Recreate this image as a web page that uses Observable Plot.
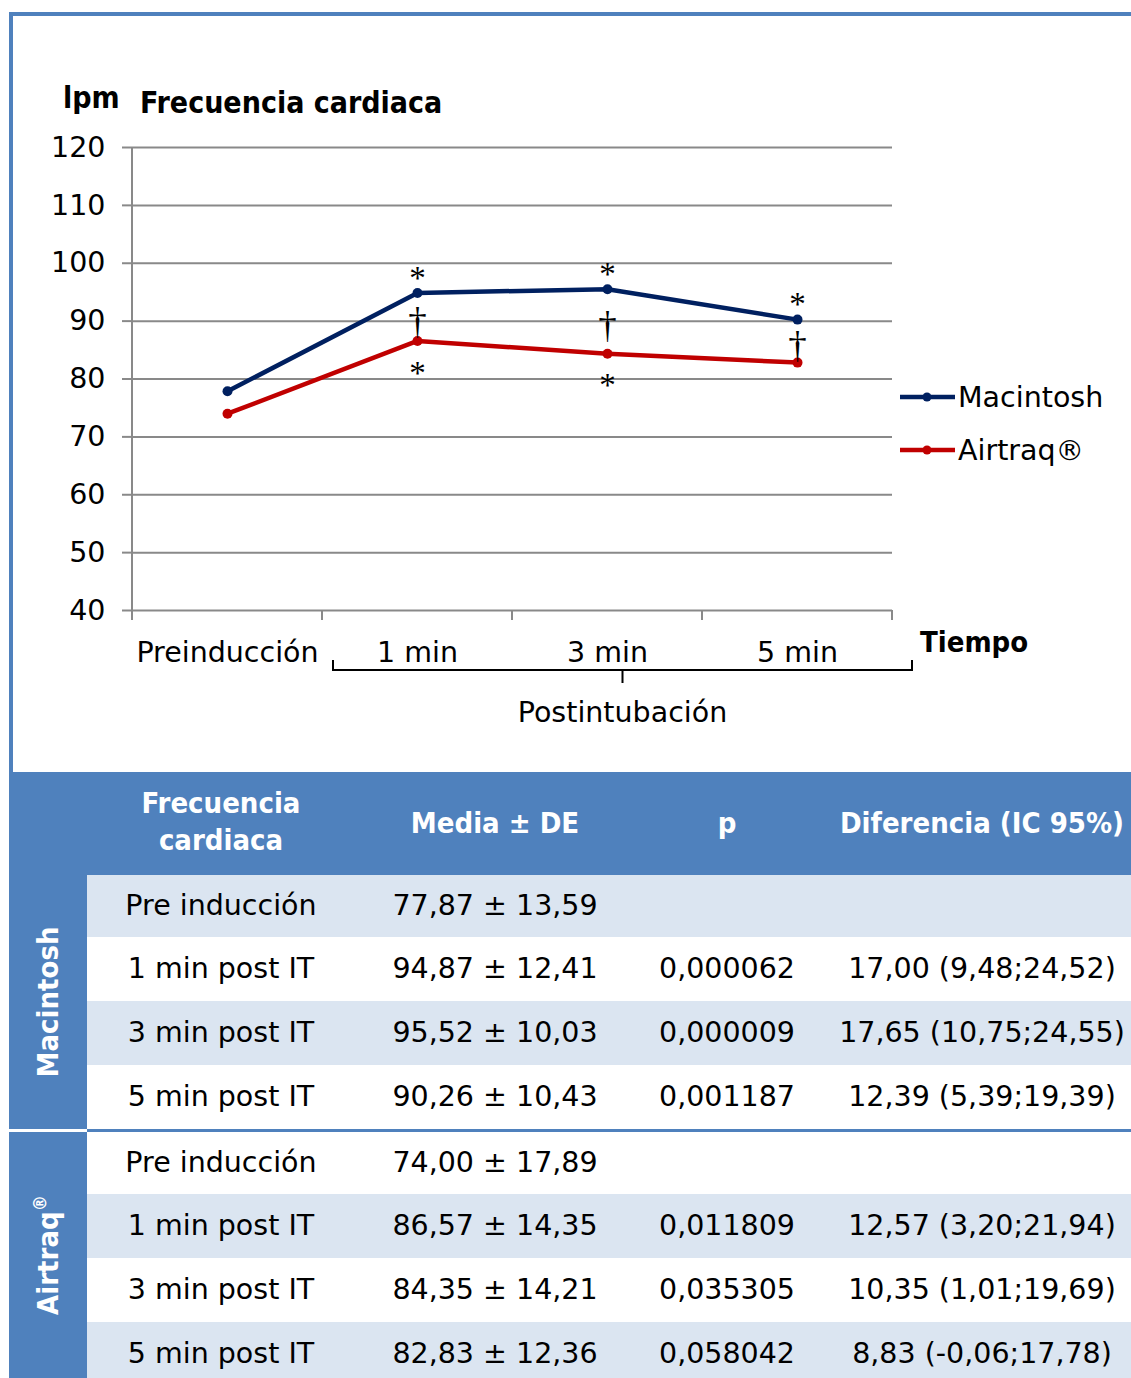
<!DOCTYPE html>
<html>
<head>
<meta charset="utf-8">
<script src="https://cdn.jsdelivr.net/npm/d3@7"></script>
<script src="https://cdn.jsdelivr.net/npm/@observablehq/plot@0.6"></script>
<style>
html, body { margin: 0; padding: 0; overflow: hidden; background: #fff; }
#page { position: relative; width: 1131px; height: 1378px; overflow: hidden; background: #fff;
  font-family: "DejaVu Sans", sans-serif; }
.frame { position: absolute; left: 9px; top: 12px; width: 1122px; height: 760px;
  border-top: 4px solid #4F81BD; border-left: 4px solid #4F81BD; box-sizing: border-box; z-index: 1; }
#chart { position: absolute; left: 0; top: 0; z-index: 2; }
.blk { position: absolute; }
.cell { position: absolute; text-align: center; white-space: nowrap; font-size: 28.5px; color: #000;
  font-family: "DejaVu Sans", sans-serif; }
.hcell, .grp { font-family: "DejaVu Sans Condensed", "DejaVu Sans", sans-serif; font-stretch: condensed; }
.hcell { position: absolute; text-align: center; white-space: nowrap; font-size: 29px; color: #fff; font-weight: bold; }
.grp { position: absolute; white-space: nowrap; color: #fff; font-weight: bold; font-size: 29px;
  transform: translate(-50%, -50%) rotate(-90deg); transform-origin: center center; }
.grp sup { font-size: 18px; vertical-align: 12px; line-height: 0; }
</style>
</head>
<body>
<div id="page">
  <div class="frame"></div>
  <div id="chart"></div>
  <div id="table"></div>
</div>
<script>
// ---------------- Chart data ----------------
const categories = ["Preinducción", "1 min", "3 min", "5 min"];
const seriesNames = ["Macintosh", "Airtraq®"];
const seriesColors = ["#002060", "#C00000"];
const macintosh = [77.87, 94.87, 95.52, 90.26];
const airtraq = [74.00, 86.57, 84.35, 82.83];
const yTicks = [40, 50, 60, 70, 80, 90, 100, 110, 120];
const starAboveMac = ["1 min", "3 min", "5 min"];
const daggerBetween = ["1 min", "3 min", "5 min"];
const starBelowAir = ["1 min", "3 min"];

// ---------------- Table data ----------------
const tableHeaders = ["Frecuencia cardiaca", "Media ± DE", "p", "Diferencia (IC 95%)"];
const rowLabels = ["Pre inducción", "1 min post IT", "3 min post IT", "5 min post IT"];
const macSD = [13.59, 12.41, 10.03, 10.43];
const macP = ["", "0,000062", "0,000009", "0,001187"];
const macDiff = ["", "17,00 (9,48;24,52)", "17,65 (10,75;24,55)", "12,39 (5,39;19,39)"];
const airSD = [17.89, 14.35, 14.21, 12.36];
const airP = ["", "0,011809", "0,035305", "0,058042"];
const airDiff = ["", "12,57 (3,20;21,94)", "10,35 (1,01;19,69)", "8,83 (-0,06;17,78)"];

const FONT = '"DejaVu Sans", sans-serif';
const BOLD = '"DejaVu Sans Condensed", "DejaVu Sans", sans-serif';
const SERIF = '"Liberation Serif", "DejaVu Serif", serif';

const series = [macintosh, airtraq];
const long = [];
series.forEach((vals, s) => vals.forEach((v, i) => long.push({cat: categories[i], value: v, series: seriesNames[s]})));
const valOf = (arr, c) => arr[categories.indexOf(c)];

function decor(index, scales, values, dims) {
  const x = scales.x, y = scales.y;
  const bw = typeof x.bandwidth === "function" ? x.bandwidth() : x.bandwidth;
  const g = d3.create("svg:g").attr("text-anchor", "start");
  const x0 = x(categories[0]);
  const xEnd = x(categories[categories.length - 1]) + bw;
  const yTop = y(d3.max(yTicks));
  const yBot = y(d3.min(yTicks));
  const axisColor = "#898989";
  // y axis line
  g.append("line").attr("x1", x0).attr("x2", x0).attr("y1", yTop).attr("y2", yBot + 10)
    .attr("stroke", axisColor).attr("stroke-width", 2);
  // boundary ticks
  categories.forEach(c => {
    const xb = x(c) + bw;
    g.append("line").attr("x1", xb).attr("x2", xb).attr("y1", yBot).attr("y2", yBot + 10)
      .attr("stroke", axisColor).attr("stroke-width", 2);
  });
  // bracket under post-intubation categories
  const bl = x(categories[1]) + 11, br = xEnd + 20, bm = (bl + br) / 2;
  g.append("path")
    .attr("d", `M${bl},${yBot + 50}V${yBot + 60}H${br}V${yBot + 50}M${bm},${yBot + 60}V${yBot + 73}`)
    .attr("fill", "none").attr("stroke", "#000").attr("stroke-width", 2);
  g.append("text").attr("x", bm).attr("y", yBot + 112).attr("text-anchor", "middle")
    .attr("font-size", 28.5).text("Postintubación");
  g.append("text").attr("x", xEnd + 28).attr("y", yBot + 42).attr("font-size", 29)
    .attr("font-family", BOLD).attr("font-stretch", "condensed")
    .attr("font-weight", "bold").text("Tiempo");
  // titles
  g.append("text").attr("x", x0 - 69).attr("y", yTop - 39).attr("font-size", 30)
    .attr("font-family", BOLD).attr("font-stretch", "condensed")
    .attr("font-weight", "bold").text("lpm");
  g.append("text").attr("x", x0 + 8).attr("y", yTop - 34).attr("font-size", 30)
    .attr("font-family", BOLD).attr("font-stretch", "condensed")
    .attr("font-weight", "bold").text("Frecuencia cardiaca");
  // legend
  seriesNames.forEach((name, i) => {
    const ly = yTop + 250 + i * 53;
    const lx = xEnd + 8;
    g.append("line").attr("x1", lx).attr("x2", lx + 55).attr("y1", ly).attr("y2", ly)
      .attr("stroke", seriesColors[i]).attr("stroke-width", 4.5);
    g.append("circle").attr("cx", lx + 27).attr("cy", ly).attr("r", 4.5).attr("fill", seriesColors[i]);
    g.append("text").attr("x", lx + 58).attr("y", ly + 10).attr("font-size", 28.5).text(name);
  });
  return g.node();
}

const plot = Plot.plot({
  width: 1131,
  height: 772,
  marginLeft: 132,
  marginRight: 239,
  marginTop: 147,
  marginBottom: 162,
  style: {background: "transparent", fontFamily: FONT, fontSize: "28.5px", color: "#000", overflow: "visible"},
  x: {type: "band", domain: categories, padding: 0, label: null, tickSize: 0, tickPadding: 31},
  y: {domain: [40, 120], ticks: yTicks, tickSize: 10, tickPadding: 17, label: null},
  color: {domain: seriesNames, range: seriesColors},
  marks: [
    Plot.ruleY(yTicks, {stroke: "#898989", strokeWidth: 2, strokeOpacity: 1}),
    Plot.axisY({ticks: yTicks, tickSize: 10, tickPadding: 17, stroke: "#898989", strokeWidth: 2, label: null, fontSize: 28.5}),
    Plot.axisX({tickSize: 0, tickPadding: 31, label: null, fontSize: 28.5}),
    decor,
    Plot.line(long, {x: "cat", y: "value", stroke: "series", strokeWidth: 4.5}),
    Plot.dot(long, {x: "cat", y: "value", fill: "series", r: 5}),
    Plot.text(starAboveMac, {x: d => d, y: d => valOf(macintosh, d), text: () => "*", dy: -15, fontFamily: SERIF, fontSize: 33, fill: "#000"}),
    Plot.text(daggerBetween, {x: d => d, y: d => (valOf(macintosh, d) + valOf(airtraq, d)) / 2, text: () => "†", dy: 5, fontFamily: SERIF, fontSize: 37, fill: "#000"}),
    Plot.text(starBelowAir, {x: d => d, y: d => valOf(airtraq, d), text: () => "*", dy: 32, fontFamily: SERIF, fontSize: 33, fill: "#000"})
  ]
});
document.getElementById("chart").appendChild(plot);

// ---------------- Table ----------------
const table = document.getElementById("table");
const BLUE = "#4F81BD", LIGHT = "#DBE5F1";
function blk(l, t, w, h, bg) {
  const d = document.createElement("div");
  d.className = "blk";
  Object.assign(d.style, {left: l + "px", top: t + "px", width: w + "px", height: h + "px", background: bg});
  table.appendChild(d);
  return d;
}
function cell(cls, cx, t, h, html) {
  const d = document.createElement("div");
  d.className = cls;
  Object.assign(d.style, {left: (cx - 200) + "px", width: "400px", top: t + "px", height: h + "px", lineHeight: h + "px"});
  d.innerHTML = html;
  table.appendChild(d);
  return d;
}
const colCenters = [221, 495, 727, 982];
const fmt = v => v.toFixed(2).replace(".", ",");

// header
blk(9, 772, 1122, 103, BLUE);
tableHeaders.forEach((h, i) => {
  if (i === 0) {
    const d = cell("hcell", colCenters[i], 785, 76, h.replace(" ", "<br>"));
    d.style.lineHeight = "37px";
  } else {
    cell("hcell", colCenters[i], 772, 103, h);
  }
});
// left group column
blk(9, 875, 78, 503, BLUE);

const groups = [
  {name: "Macintosh", mean: macintosh, sd: macSD, p: macP, diff: macDiff, top: 875},
  {name: "Airtraq<sup>®</sup>", mean: airtraq, sd: airSD, p: airP, diff: airDiff, top: 1132}
];
const rowH = [62, 64, 64, 64];
groups.forEach((gr, gi) => {
  let t = gr.top;
  rowLabels.forEach((lab, ri) => {
    const h = rowH[ri];
    const light = (ri + gi) % 2 === 0;
    blk(87, t, 1044, h, light ? LIGHT : "#fff");
    cell("cell", colCenters[0], t, h, lab);
    cell("cell", colCenters[1], t, h, fmt(gr.mean[ri]) + " ± " + fmt(gr.sd[ri]));
    if (gr.p[ri]) cell("cell", colCenters[2], t, h, gr.p[ri]);
    if (gr.diff[ri]) cell("cell", colCenters[3], t, h, gr.diff[ri]);
    t += h;
  });
  const gl = document.createElement("div");
  gl.className = "grp";
  gl.style.left = "48px";
  gl.style.top = (gi === 0 ? 1002 : 1255) + "px";
  gl.innerHTML = gr.name;
  table.appendChild(gl);
});
// separator between groups
blk(9, 1129, 78, 3, "#fff");
blk(87, 1129, 1044, 3, BLUE);
</script>
</body>
</html>
